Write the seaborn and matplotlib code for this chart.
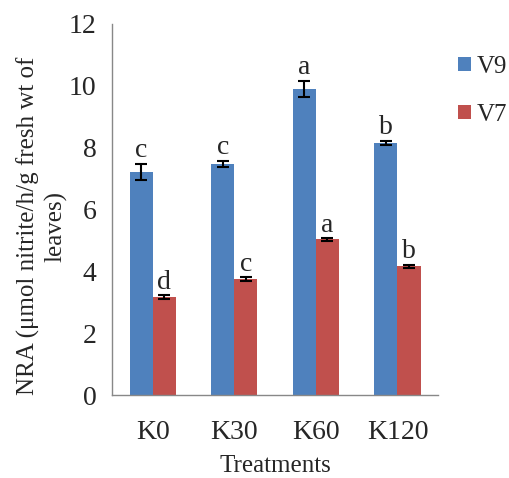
import matplotlib
matplotlib.use("Agg")
import matplotlib.pyplot as plt
from matplotlib.container import BarContainer
import seaborn as sns
import pandas as pd

treatments = ["K0", "K30", "K60", "K120"]
v9 = [7.22, 7.47, 9.90, 8.15]
v7 = [3.17, 3.75, 5.03, 4.17]
v9_err = [0.26, 0.10, 0.26, 0.06]
v7_err = [0.05, 0.05, 0.04, 0.05]
v9_letters = ["c", "c", "a", "b"]
v7_letters = ["d", "c", "a", "b"]
series = ["V9", "V7"]

sns.set_style("white")
plt.rcParams['font.family'] = ['Liberation Serif', 'DejaVu Serif']

df = pd.DataFrame({
    "Treatment": treatments * 2,
    "Variety": [series[0]] * 4 + [series[1]] * 4,
    "NRA": v9 + v7,
})

fig = plt.figure(figsize=(5.09, 4.78), dpi=100)
ax = fig.add_axes([0.22, 0.1736, 0.641, 0.7764])

palette = {"V9": "#4F81BD", "V7": "#C0504D"}
sns.barplot(data=df, x="Treatment", y="NRA", hue="Variety", order=treatments,
            hue_order=series, palette=palette, width=0.565, gap=0, ax=ax,
            errorbar=None, saturation=1, linewidth=0)

errs = [v9_err, v7_err]
letters = [v9_letters, v7_letters]
bar_conts = [c for c in ax.containers if isinstance(c, BarContainer)]
for si, cont in enumerate(bar_conts):
    for i, bar in enumerate(cont.patches):
        xc = bar.get_x() + bar.get_width() / 2
        h = bar.get_height()
        ax.errorbar(xc, h, yerr=errs[si][i], fmt="none", ecolor="black",
                    elinewidth=1.5, capsize=4, capthick=1.5)
        ax.text(xc, h + errs[si][i] + 0.02, letters[si][i], ha="center",
                va="bottom", fontsize=20)

ax.set_ylim(0, 12)
ax.set_xlim(-0.5, 3.5)
ax.set_yticks(range(0, 13, 2))
ax.set_xticks([-0.5, 0.5, 1.5, 2.5, 3.5], minor=False)
ax.set_xticklabels([])
ax.set_xticks(range(4), minor=True)
ax.set_xticklabels(treatments, minor=True)
ax.tick_params(axis="x", which="major", length=8, width=1, color="#888888", direction="out")
ax.tick_params(axis="x", which="minor", length=0, labelsize=20, pad=18)
ax.tick_params(axis="y", length=6, width=1, color="#888888", direction="out", labelsize=20, pad=5)

for s in ["top", "right"]:
    ax.spines[s].set_visible(False)
for s in ["left", "bottom"]:
    ax.spines[s].set_color("#888888")
    ax.spines[s].set_linewidth(1)

ax.set_xlabel("Treatments", fontsize=18, labelpad=7)
ax.set_ylabel("NRA (μmol nitrite/h/g fresh wt of\nleaves)", fontsize=18, linespacing=1.3)
ax.yaxis.set_label_coords(-0.135, 0.455)

handles, labels = ax.get_legend_handles_labels()
if ax.legend_ is not None:
    ax.legend_.remove()
fig.legend(handles, labels, loc="upper left", bbox_to_anchor=(0.9, 0.883),
           frameon=False, fontsize=18, handlelength=0.5, handleheight=0.5,
           handletextpad=0.25, labelspacing=1.05, borderaxespad=0, borderpad=0)

fig.savefig("out.png", dpi=100)
